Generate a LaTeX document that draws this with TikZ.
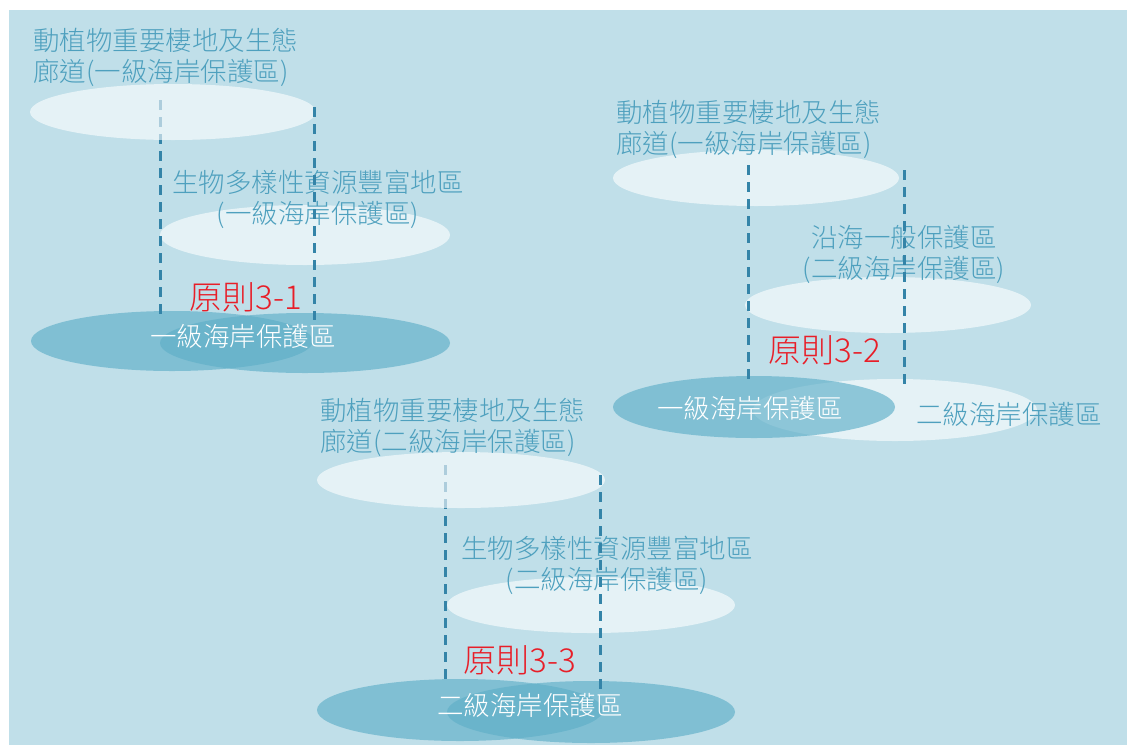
\documentclass[tikz,border=0pt]{standalone}
\usepackage{fontspec}
\setmainfont{Noto Sans CJK TC}[UprightFont=* Light]
\definecolor{bgblue}{RGB}{192,223,233}
\definecolor{darkE}{RGB}{95,175,200}
\definecolor{tealtext}{RGB}{78,160,190}
\definecolor{dashcol}{RGB}{52,132,168}
\definecolor{redtext}{RGB}{232,30,40}
\tikzset{
  lightell/.style={fill=white, fill opacity=0.6, draw=none},
  darkell/.style={fill=darkE, fill opacity=0.65, draw=none},
  guide/.style={draw=dashcol, line width=3pt, dash pattern=on 10pt off 7pt},
  lbl/.style={text=tealtext, font=\fontsize{26.5}{31}\selectfont, inner sep=0pt},
  lblc/.style={lbl, align=center},
  lbll/.style={lbl, align=left, anchor=west},
  wlbl/.style={text=white, font=\fontsize{26.5}{31}\selectfont, inner sep=0pt},
  rlbl/.style={text=redtext, font=\fontsize{33}{36}\selectfont, inner sep=0pt}
}
\begin{document}
\begin{tikzpicture}[x=1pt,y=-1pt]
\useasboundingbox (0,0) rectangle (1127,745);
\fill[bgblue] (9,10) rectangle (1127,745);

% ---------------- Group 1 ----------------
\coordinate (g1a1) at (160,100); \coordinate (g1a2) at (160,318);
\coordinate (g1b1) at (314,107); \coordinate (g1b2) at (314,320);
\fill[darkell] (172,341) ellipse [x radius=141, y radius=30];
\fill[darkell] (305,343) ellipse [x radius=145, y radius=30];
\fill[lightell] (305,235) ellipse [x radius=145, y radius=30];
\draw[guide] (g1a1) -- (g1a2);
\fill[lightell] (173,112) ellipse [x radius=143, y radius=28];
\node[lbll] (g1t1) at (33,57) {動植物重要棲地及生態\\廊道(一級海岸保護區)};
\node[lblc] (g1t2) at (318,199) {生物多樣性資源豐富地區\\(一級海岸保護區)};
\node[rlbl] (g1r) at (246,297) {原則3-1};
\node[wlbl] (g1w) at (243,336) {一級海岸保護區};
\draw[guide] (g1b1) -- (g1b2);

% ---------------- Group 2 ----------------
\coordinate (g2a1) at (748,165); \coordinate (g2a2) at (748,380);
\coordinate (g2b1) at (904,170); \coordinate (g2b2) at (904,385);
\fill[lightell] (756,178) ellipse [x radius=143, y radius=28];
\fill[lightell] (888,305) ellipse [x radius=143, y radius=28];
\fill[lightell] (895,410) ellipse [x radius=142, y radius=31];
\fill[darkell] (754,407) ellipse [x radius=141, y radius=31];
\node[lbll] (g2t1) at (616,129) {動植物重要棲地及生態\\廊道(一級海岸保護區)};
\node[lblc] (g2t2) at (904,254) {沿海一般保護區\\(二級海岸保護區)};
\node[rlbl] (g2r) at (825,350) {原則3-2};
\node[wlbl] (g2w) at (750,408) {一級海岸保護區};
\node[lbl] (g2s) at (1009,414) {二級海岸保護區};
\draw[guide] (g2a1) -- (g2a2);
\draw[guide] (g2b1) -- (g2b2);

% ---------------- Group 3 ----------------
\coordinate (g3a1) at (445,465); \coordinate (g3a2) at (445,683);
\coordinate (g3b1) at (600,475); \coordinate (g3b2) at (600,690);
\fill[darkell] (460,710) ellipse [x radius=143, y radius=31];
\fill[darkell] (591,712) ellipse [x radius=144, y radius=31];
\fill[lightell] (591,605) ellipse [x radius=144, y radius=28];
\draw[guide] (g3a1) -- (g3a2);
\fill[lightell] (461,480) ellipse [x radius=144, y radius=28];
\node[lbll] (g3t1) at (320,427) {動植物重要棲地及生態\\廊道(二級海岸保護區)};
\node[lblc] (g3t2) at (607,565) {生物多樣性資源豐富地區\\(二級海岸保護區)};
\node[rlbl] (g3r) at (520,660) {原則3-3};
\node[wlbl] (g3w) at (530,705) {二級海岸保護區};
\draw[guide] (g3b1) -- (g3b2);
\end{tikzpicture}
\end{document}
